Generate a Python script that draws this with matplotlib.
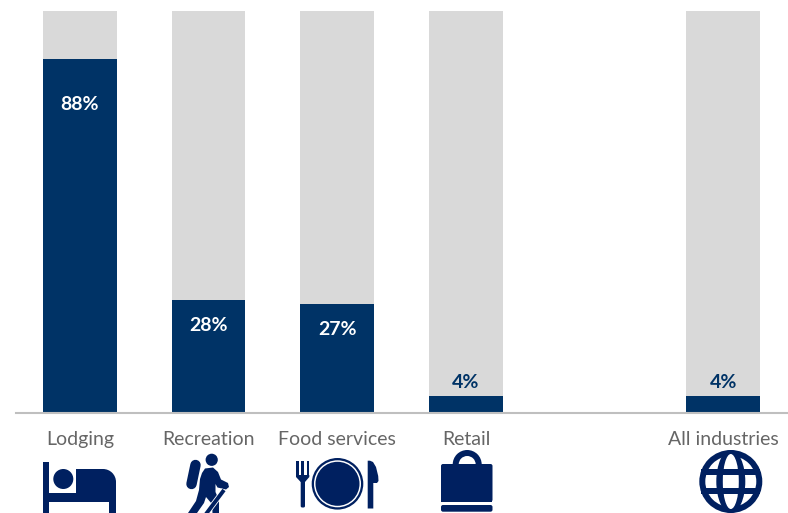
import numpy as np
import matplotlib
matplotlib.use("Agg")
import matplotlib.pyplot as plt
from matplotlib.patches import Circle, FancyBboxPatch, Polygon, Rectangle, Wedge, Ellipse

plt.rcParams['font.family'] = ['Lato', 'Open Sans', 'DejaVu Sans']

categories = ["Lodging", "Recreation", "Food services", "Retail", "", "All industries"]
values = [88, 28, 27, 4, None, 4]
labels = ["88%", "28%", "27%", "4%", "", "4%"]

BAR = "#003366"
GREY = "#d9d9d9"
ICON = "#002060"
TEXT = "#666666"

W, H = 788, 513
fig = plt.figure(figsize=(W / 100, H / 100), dpi=100)

# plot area in pixels: x 15-788, baseline at y=412.5, top at y=11
ax = fig.add_axes([15.5 / W, 1 - 412.5 / H, 772.2 / W, 401.5 / H])
x = np.arange(len(categories))
for i, v in enumerate(values):
    if v is None:
        continue
    ax.bar(x[i], 100, width=0.574, color=GREY)
    ax.bar(x[i], v, width=0.574, color=BAR)
    if v > 10:
        # the tall bar keeps its label further down from the top
        offset = 11.3 if v > 50 else 6.4
        ax.text(x[i], v - offset, labels[i], color="white", fontsize=14, fontweight="bold",
                ha="center", va="center")
    else:
        ax.text(x[i], v + 3.5, labels[i], color=BAR, fontsize=14, fontweight="bold",
                ha="center", va="center")

ax.set_xlim(-0.5, 5.5)
ax.set_ylim(0, 100)
ax.set_yticks([])
ax.set_xticks([])
for s in ["top", "left", "right"]:
    ax.spines[s].set_visible(False)
ax.spines["bottom"].set_color("#bfbfbf")
ax.spines["bottom"].set_linewidth(1.5)

for i, c in enumerate(categories):
    ax.annotate(c, (x[i], 0), xytext=(0, -27 * 0.72), textcoords="offset points",
                color=TEXT, fontsize=14, ha="center", va="center", annotation_clip=False)

# overlay in pixel coordinates for the icons, y pointing down
ov = fig.add_axes([0, 0, 1, 1])
ov.axis("off")
ov.patch.set_alpha(0)


def add(p):
    ov.add_patch(p)


def bed():
    add(Rectangle((42.7, 462), 6.6, 51, color=ICON, lw=0))
    add(Rectangle((42.7, 492.5), 73.3, 9.5, color=ICON, lw=0))
    add(Rectangle((109.5, 495), 6.5, 18, color=ICON, lw=0))
    add(Circle((63.3, 479), 10, color=ICON, lw=0))
    add(Wedge((103, 482), 13, 270, 360, color=ICON, lw=0))
    add(Rectangle((76, 469), 27, 24, color=ICON, lw=0))
    add(Rectangle((103, 482), 13, 11, color=ICON, lw=0))


def hiker():
    add(Circle((211.7, 459.8), 6.1, color=ICON, lw=0))
    # backpack as a thick rounded stroke
    ov.plot([195.5, 191.5], [465, 484], color=ICON, lw=7.5, solid_capstyle="round")
    add(Circle((196.7, 464.8), 1.5, color="white", lw=0))
    add(Polygon([(202, 473), (205, 468.5), (213, 467.5), (218, 472), (221, 479.5), (228, 483),
                 (229, 487), (226, 489.5), (217.5, 487.5), (215.5, 484), (215.5, 492), (219, 500),
                 (219, 513), (212.5, 513), (212, 504), (206, 497), (204, 503), (197, 513),
                 (188, 513), (196, 501), (199, 490), (200, 479)], color=ICON, lw=0))
    # walking stick, with a thin gap where it passes the leg
    ov.plot([224, 206], [490, 514], color="white", lw=4, solid_capstyle="butt")
    ov.plot([224, 206], [490, 514], color=ICON, lw=2.8, solid_capstyle="butt")


def plate():
    # fork with three tines
    add(FancyBboxPatch((300.7, 478), 4.3, 29.5, boxstyle="round,pad=0,rounding_size=1.5", color=ICON, lw=0))
    for fx in (296, 301.2, 306.7):
        add(Rectangle((fx, 460.7), 2.6, 16, color=ICON, lw=0))
    add(Polygon([(296, 475), (309.3, 475), (309.3, 477), (305, 482), (300.7, 482), (296, 477)], color=ICON, lw=0))
    # plate with a white ring
    add(Circle((337.5, 483.8), 25.8, color=ICON, lw=0))
    add(Circle((337.5, 483.8), 23.5, color="white", lw=0))
    add(Circle((337.5, 483.8), 22, color=ICON, lw=0))
    # knife
    add(Polygon([(367.7, 460.7), (370, 460.7), (373, 462), (376, 467), (378.2, 476), (378.5, 481),
                 (377, 483), (373.3, 483), (373.3, 508.5), (367.7, 508.5)], color=ICON, lw=0))


def bag():
    add(FancyBboxPatch((441, 464), 51.5, 37.7, boxstyle="round,pad=0,rounding_size=2", color=ICON, lw=0))
    add(Rectangle((441, 467), 51.5, 34.7, color=ICON, lw=0))
    add(FancyBboxPatch((441, 505), 51.5, 6.7, boxstyle="round,pad=0,rounding_size=2", color=ICON, lw=0))
    add(Wedge((467.2, 464.5), 14.5, 180, 360, width=6, color=ICON, lw=0))


def globe():
    cx, cy = 730.8, 481.5
    r = 31.5
    add(Circle((cx, cy), r, color=ICON, lw=0))
    add(Circle((cx, cy), r - 6, color="white", lw=0))
    # meridians as an elliptical ring
    add(Ellipse((cx, cy), 2 * 14.5, 2 * r, color=ICON, lw=0))
    add(Ellipse((cx, cy), 2 * 8, 2 * r - 8, color="white", lw=0))
    # parallels
    add(Rectangle((cx - r + 2, cy - 12.5), 2 * r - 4, 6.2, color=ICON, lw=0))
    add(Rectangle((cx - r + 2, cy + 6.5), 2 * r - 4, 6.2, color=ICON, lw=0))


bed()
hiker()
plate()
bag()
globe()
ov.set_xlim(0, W)
ov.set_ylim(H, 0)

fig.savefig("out.png", dpi=100)
